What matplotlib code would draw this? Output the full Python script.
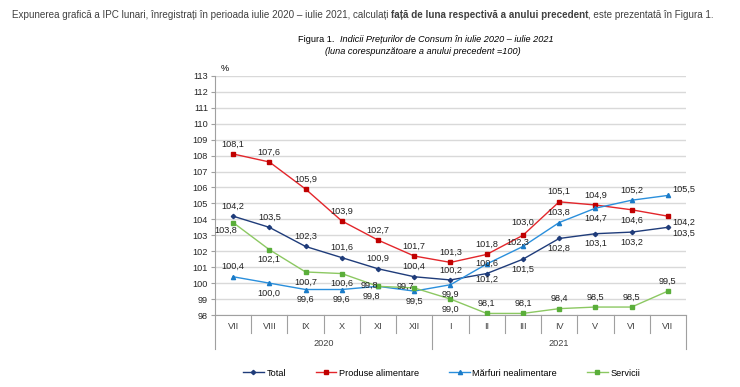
import matplotlib
matplotlib.use("Agg")
import matplotlib.pyplot as plt
import matplotlib.transforms as mtransforms

plt.rcParams["font.family"] = ["Liberation Sans", "DejaVu Sans"]

# ── Date ──
luni = ["VII", "VIII", "IX", "X", "XI", "XII", "I", "II", "III", "IV", "V", "VI", "VII"]
ani = ["2020", "2021"]

total = [104.2, 103.5, 102.3, 101.6, 100.9, 100.4, 100.2, 100.6, 101.5, 102.8, 103.1, 103.2, 103.5]
alimentare = [108.1, 107.6, 105.9, 103.9, 102.7, 101.7, 101.3, 101.8, 103.0, 105.1, 104.9, 104.6, 104.2]
nealimentare = [100.4, 100.0, 99.6, 99.6, 99.8, 99.5, 99.9, 101.2, 102.3, 103.8, 104.7, 105.2, 105.5]
servicii = [103.8, 102.1, 100.7, 100.6, 99.8, 99.7, 99.0, 98.1, 98.1, 98.4, 98.5, 98.5, 99.5]

# pozitia etichetelor (ca in Excel)
poz_total = ["a"] * 8 + ["b"] * 4 + ["rb"]
poz_alim = ["a"] * 8 + ["aa", "a", "a", "b", "rb"]
poz_nealim = ["a", "b", "b", "b", "lbb", "b", "b", "bb", "la", "a", "b", "a", "ra"]
poz_serv = ["lb", "b", "b", "b", "l", "l", "b", "a", "a", "a", "a", "a", "a"]

# offset (puncte), ha, va
POZ = {
    "a": ((0, 4), "center", "bottom"),
    "aa": ((0, 6), "center", "bottom"),
    "b": ((0, -4), "center", "top"),
    "bb": ((0, -8), "center", "top"),
    "lb": ((-5, -2), "center", "top"),
    "lbb": ((-5, -4), "center", "top"),
    "la": ((-4, 0), "center", "bottom"),
    "l": ((-6, 1), "center", "center"),
    "ra": ((3, 1), "left", "bottom"),
    "rb": ((3, -1), "left", "top"),
}

serii = [
    ("Total", total, "#1F3C7A", "#1F3C7A", "D", 2.2, poz_total),
    ("Produse alimentare", alimentare, "#E3262B", "#C00000", "s", 2.6, poz_alim),
    ("Mărfuri nealimentare", nealimentare, "#2A8FDC", "#1A7BC8", "^", 3.0, poz_nealim),
    ("Servicii", servicii, "#8CC862", "#5AAE3A", "s", 3.0, poz_serv),
]

fig = plt.figure(figsize=(7.4, 3.87), dpi=100)
fig.patch.set_facecolor("white")

# ── Texte de sus ──
fs_sus = 7.1
t1 = fig.text(0.016, 0.962,
              "Expunerea grafică a IPC lunari, înregistrați în perioada iulie 2020 – iulie 2021, calculați ",
              fontsize=fs_sus, color="#404040", va="center")
fig.canvas.draw()
x2 = t1.get_window_extent().x1 / fig.bbox.width
t2 = fig.text(x2, 0.962, "față de luna respectivă a anului precedent",
              fontsize=fs_sus, color="#404040", va="center", fontweight="bold")
fig.canvas.draw()
x3 = t2.get_window_extent().x1 / fig.bbox.width
fig.text(x3, 0.962, ", este prezentată în Figura 1.",
         fontsize=fs_sus, color="#404040", va="center")

t3 = fig.text(0.403, 0.897, "Figura 1.  ", fontsize=6.6, va="center")
fig.canvas.draw()
x4 = t3.get_window_extent().x1 / fig.bbox.width
fig.text(x4, 0.897, "Indicii Prețurilor de Consum în iulie 2020 – iulie 2021",
         fontsize=6.6, va="center", style="italic")
fig.text(0.571, 0.868, "(luna corespunzătoare a anului precedent =100)",
         fontsize=6.6, va="center", ha="center", style="italic")

# ── Grafic ──
ax = fig.add_axes([0.2905, 0.186, 0.6365, 0.618])
x = list(range(len(luni)))

for nume, val, culoare, cul_marker, marker, ms, poz in serii:
    ax.plot(x, val, color=culoare, lw=1.0, marker=marker, markersize=ms,
            markerfacecolor=cul_marker, markeredgecolor=cul_marker, label=nume,
            zorder=3)
    for xi, vi, p in zip(x, val, poz):
        off, ha, va = POZ[p]
        ax.annotate(f"{vi:.1f}".replace(".", ","), (xi, vi), xytext=off,
                    textcoords="offset points", ha=ha, va=va, fontsize=6.6,
                    color="#222222", zorder=4)

ax.set_xlim(-0.5, 12.5)
ax.set_ylim(98, 113)
ax.set_yticks(range(98, 114))
ax.yaxis.grid(True, color="#D9D9D9", lw=1.0)
ax.set_axisbelow(True)
ax.tick_params(axis="y", length=3, color="#A0A0A0", labelsize=6.6, pad=2,
               labelcolor="#262626")
ax.set_xticks([])
for s in ["top", "right"]:
    ax.spines[s].set_visible(False)
ax.spines["left"].set_color("#A0A0A0")
ax.spines["bottom"].set_color("#A0A0A0")
ax.text(0.012, 1.012, "%", transform=ax.transAxes, fontsize=6.6, ha="left", va="bottom")

# axa de categorii pe doua niveluri
trans = mtransforms.blended_transform_factory(ax.transData, ax.transAxes)
for i, luna in enumerate(luni):
    ax.text(i, -0.05, luna, transform=trans, ha="center", va="center",
            fontsize=6.6, color="#404040")
for k in range(14):
    pos = k - 0.5
    jos = -0.14 if k in (0, 6, 13) else -0.075
    ax.plot([pos, pos], [0, jos], transform=trans, color="#A0A0A0", lw=0.8,
            clip_on=False)
ax.text(2.5, -0.118, ani[0], transform=trans, ha="center", va="center",
        fontsize=6.6, color="#404040")
ax.text(9.0, -0.118, ani[1], transform=trans, ha="center", va="center",
        fontsize=6.6, color="#404040")

fig.legend(loc="center", bbox_to_anchor=(0.597, 0.036), ncol=4, frameon=False,
           fontsize=6.6, handlelength=2.2, columnspacing=3.3, handletextpad=0.3)

plt.savefig("out.png", dpi=100)
